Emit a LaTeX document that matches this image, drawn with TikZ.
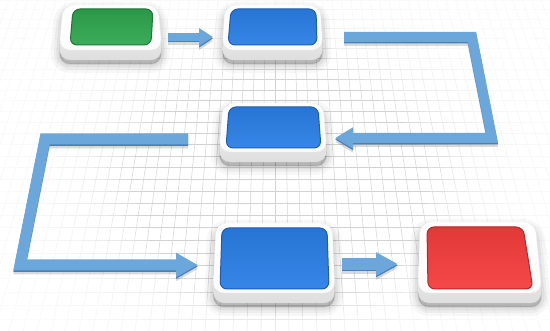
\documentclass[tikz,border=0pt]{standalone}
\usetikzlibrary{arrows.meta,calc}
\definecolor{arrowblue}{HTML}{6CA7DB}
\definecolor{arrowdark}{HTML}{4A80B8}
\definecolor{gfill}{HTML}{2FA64F}
\definecolor{gedge}{HTML}{1F7436}
\definecolor{bfill}{HTML}{2A7FE6}
\definecolor{bedge}{HTML}{1F5CB0}
\definecolor{rfill}{HTML}{F53D3D}
\definecolor{redge}{HTML}{B82626}
\definecolor{gridc}{HTML}{D2D2D2}
\newcommand\flowbox[9]{%
  \foreach \w/\o in {18/0.03,12/0.04,7/0.05,2/0.07} {
    \filldraw[black, opacity=\o, line width=\w pt, rounded corners=11pt, line join=round]
      ($(#1)+(0,6)$) -- ($(#2)+(0,6)$) -- ($(#3)+(0,14)$) -- ($(#4)+(0,14)$) -- cycle;
  }
  \shade[top color=gray!5, bottom color=gray!26, rounded corners=11pt]
    (#1) -- (#2) -- ($(#3)+(0,10)$) -- ($(#4)+(0,10)$) -- cycle;
  \shade[top color=white, bottom color=gray!3, draw=gray!15, line width=0.4pt, rounded corners=11pt]
    (#1) -- (#2) -- (#3) -- (#4) -- cycle;
  \shade[top color=#9fill!92!black, bottom color=#9fill!94!white, draw=#9edge, line width=1pt, rounded corners=7pt]
    (#5) -- (#6) -- (#7) -- (#8) -- cycle;
}
\tikzset{
  arrowshadow/.style={black, opacity=0.15, line width=#1, line join=miter},
  arrowlow/.style={arrowdark, line width=#1, line join=miter},
  arrowtop/.style={arrowblue, line width=#1, line join=miter},
}
\begin{document}
\begin{tikzpicture}[x=1pt,y=-1pt]
\clip (0,0) rectangle (550,331);
\fill[white] (0,0) rectangle (550,331);
% perspective grid
\begin{scope}[gridc, line width=0.5pt]
  \foreach \i in {-45,...,45} {
    \draw ({275+\i*9.505},0) -- ({275+\i*14},331);
  }
  \foreach \k in {0,...,30} {
    \pgfmathsetmacro\yy{-700+700*1.0135^\k}
    \draw (-30,\yy) -- (580,\yy);
  }
\end{scope}
% stepped white fade towards the edges
\foreach \r in {0.6,0.65,...,1.25} {
  \fill[white, opacity=0.22, even odd rule] (-50,-50) rectangle (600,400)
    (280,185) ellipse ({250*\r} and {190*\r});
}

% boxes
\coordinate (green) at (110,28);
\coordinate (blueA) at (272,28);
\coordinate (blueB) at (273,128);
\coordinate (blueC) at (275,258);
\coordinate (red) at (480,258);
\flowbox{63,5}{158,5}{162,50}{59,50}{73,9}{153,9}{151,45}{70,45}{g}
\flowbox{225,5}{320,5}{323,50}{222,50}{231,9}{316,9}{317,45}{228,45}{b}
\flowbox{223,103}{323,103}{327,152}{219,152}{229,107}{318,107}{321,148}{226,148}{b}
\flowbox{216,223}{332,223}{335,293}{213,293}{222,228}{327,228}{329,289}{220,289}{b}
\flowbox{420,222}{535,222}{542,293}{418,293}{427,227}{523,227}{533,289}{428,289}{r}

% connector points
\coordinate (a1s) at (168,37);
\coordinate (a1e) at (213,37);
\coordinate (pAs) at (344,37);
\coordinate (pA1) at (472,37);
\coordinate (pA2) at (492,138);
\coordinate (pAe) at (335,138);
\coordinate (pBs) at (188,139);
\coordinate (pB1) at (45,139);
\coordinate (pB2) at (20,265);
\coordinate (pBe) at (198,265);
\coordinate (a4s) at (342,264);
\coordinate (a4e) at (398,264);

% arrow 1
\draw[arrowshadow=8pt, -{Triangle[width=17pt,length=14pt]}] ([yshift=-4pt]a1s) -- ([yshift=-4pt]a1e);
\draw[arrowlow=8pt, -{Triangle[width=17pt,length=14pt]}] ([yshift=-1.5pt]a1s) -- ([yshift=-1.5pt]a1e);
\draw[arrowtop=8pt, -{Triangle[width=17pt,length=14pt]}] (a1s) -- (a1e);
% path A
\draw[arrowshadow=10pt, -{Triangle[width=20pt,length=18pt]}] ([yshift=-4pt]pAs) -- ([yshift=-4pt]pA1) -- ([yshift=-4pt]pA2) -- ([yshift=-4pt]pAe);
\draw[arrowlow=10pt, -{Triangle[width=20pt,length=18pt]}] ([yshift=-1.5pt]pAs) -- ([yshift=-1.5pt]pA1) -- ([yshift=-1.5pt]pA2) -- ([yshift=-1.5pt]pAe);
\draw[arrowtop=10pt, -{Triangle[width=20pt,length=18pt]}] (pAs) -- (pA1) -- (pA2) -- (pAe);
% path B
\draw[arrowshadow=11pt, -{Triangle[width=23pt,length=22pt]}] ([yshift=-4pt]pBs) -- ([yshift=-4pt]pB1) -- ([yshift=-4pt]pB2) -- ([yshift=-4pt]pBe);
\draw[arrowlow=11pt, -{Triangle[width=23pt,length=22pt]}] ([yshift=-1.5pt]pBs) -- ([yshift=-1.5pt]pB1) -- ([yshift=-1.5pt]pB2) -- ([yshift=-1.5pt]pBe);
\draw[arrowtop=11pt, -{Triangle[width=23pt,length=22pt]}] (pBs) -- (pB1) -- (pB2) -- (pBe);
% arrow 4
\draw[arrowshadow=12pt, -{Triangle[width=22pt,length=22pt]}] ([yshift=-4pt]a4s) -- ([yshift=-4pt]a4e);
\draw[arrowlow=12pt, -{Triangle[width=22pt,length=22pt]}] ([yshift=-1.5pt]a4s) -- ([yshift=-1.5pt]a4e);
\draw[arrowtop=12pt, -{Triangle[width=22pt,length=22pt]}] (a4s) -- (a4e);
\end{tikzpicture}
\end{document}
